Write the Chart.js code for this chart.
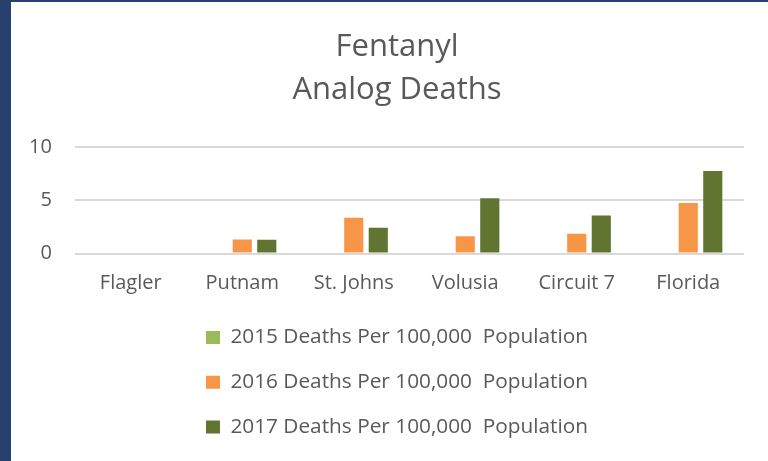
<!DOCTYPE html>
<html>
<head>
<meta charset="utf-8">
<title>Fentanyl Analog Deaths</title>
<script src="https://cdn.jsdelivr.net/npm/chart.js@4"></script>
<style>
  html, body { margin: 0; padding: 0; }
  body {
    width: 768px;
    height: 461px;
    overflow: hidden;
    background: #27406d;
    position: relative;
  }
  .panel {
    position: absolute;
    left: 11px;
    top: 2px;
    width: 757px;
    height: 459px;
    background: #ffffff;
  }
</style>
</head>
<body>
<div class="panel">
  <canvas id="deathsChart" width="757" height="459"></canvas>
</div>
<script>
// Chart data
const categories = ['Flagler', 'Putnam', 'St. Johns', 'Volusia', 'Circuit 7', 'Florida'];
const deaths2015 = [0, 0, 0, 0, 0, 0];
const deaths2016 = [0, 1.32, 3.37, 1.63, 1.86, 4.75];
const deaths2017 = [0, 1.3, 2.42, 5.19, 3.58, 7.74];
const yTicks = [0, 5, 10];

const textColor = '#595959';
const fontFamily = '"Open Sans", "Noto Sans", sans-serif';

(function() {
    const ctx = document.getElementById('deathsChart');

    new Chart(ctx, {
        type: 'bar',
        data: {
            labels: categories,
            datasets: [
                { label: '2015 Deaths Per 100,000  Population', data: deaths2015, backgroundColor: '#9bbb59' },
                { label: '2016 Deaths Per 100,000  Population', data: deaths2016, backgroundColor: '#f79646' },
                { label: '2017 Deaths Per 100,000  Population', data: deaths2017, backgroundColor: '#617530' }
            ]
        },
        options: {
            responsive: false,
            animation: false,
            devicePixelRatio: 1,
            // left padding keeps title + legend centred like the original
            layout: { padding: { left: 39, right: 24, top: 0, bottom: 13.5 } },
            datasets: {
                bar: { categoryPercentage: 0.66, barPercentage: 0.78 }
            },
            plugins: {
                title: {
                    display: true,
                    text: ['Fentanyl', 'Analog Deaths'],
                    color: textColor,
                    font: { family: fontFamily, size: 31, weight: 'normal', lineHeight: 1.387 },
                    padding: { top: 23.5, bottom: 35.5 }
                },
                legend: {
                    position: 'bottom',
                    labels: {
                        color: textColor,
                        font: { family: fontFamily, size: 20.8 },
                        boxWidth: 14,
                        boxHeight: 13,
                        padding: 24
                    }
                },
                tooltip: { enabled: false }
            },
            scales: {
                x: {
                    grid: { display: false, drawTicks: false },
                    border: { display: false },
                    ticks: {
                        color: textColor,
                        font: { family: fontFamily, size: 20 },
                        padding: 18
                    },
                    afterFit: function(scale) { scale.height = 49.5; }
                },
                y: {
                    min: 0,
                    max: 10,
                    afterBuildTicks: function(scale) {
                        scale.ticks = yTicks.map(v => ({ value: v }));
                    },
                    grid: { color: '#d9d9d9', lineWidth: 2, drawTicks: false },
                    border: { display: false },
                    // mirrored labels are not clipped, so they can sit left of the narrow axis box
                    ticks: {
                        color: textColor,
                        font: { family: fontFamily, size: 20 },
                        mirror: true,
                        crossAlign: 'far',
                        padding: -46
                    },
                    afterFit: function(scale) { scale.width = 25; }
                }
            }
        }
    });
})();
</script>
</body>
</html>
